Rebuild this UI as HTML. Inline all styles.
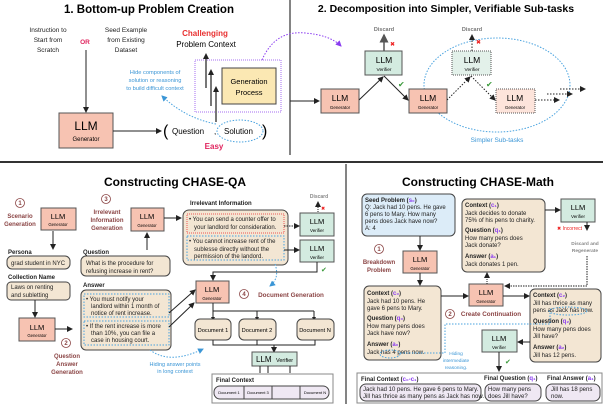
<!DOCTYPE html>
<html><head><meta charset="utf-8"><style>
html,body{margin:0;padding:0;background:#fff}
svg{display:block;font-family:"Liberation Sans",sans-serif}
.g{fill:#f7c3b2;stroke:#555;stroke-width:1}
.v{fill:#d3ebe0;stroke:#555;stroke-width:1}
.t{fill:#f3e6d3;stroke:#444;stroke-width:1}
.l{stroke:#222;stroke-width:1;fill:none}
.bd{stroke:#4aa3df;stroke-width:1;fill:none;stroke-dasharray:1.5 1.5}
.s{font-size:6px;fill:#222}
.b{font-weight:bold}
.m{fill:#8b4545;font-weight:bold}
.bl{fill:#3b96d6}
.p{fill:#8a3cf0;font-weight:bold}
</style></head><body>
<svg width="603" height="404" viewBox="0 0 603 404" xmlns="http://www.w3.org/2000/svg">
<defs><marker id="a" markerWidth="6" markerHeight="6" refX="5" refY="3" orient="auto"><path d="M0,0L6,3L0,6z" fill="#222"/></marker>
<marker id="ag" markerWidth="6" markerHeight="6" refX="5" refY="3" orient="auto"><path d="M0,0L6,3L0,6z" fill="#555"/></marker>
<marker id="ab" markerWidth="6" markerHeight="6" refX="5" refY="3" orient="auto"><path d="M0,0L6,3L0,6z" fill="#3b96d6"/></marker>
<marker id="ap" markerWidth="6" markerHeight="6" refX="5" refY="3" orient="auto"><path d="M0,0L6,3L0,6z" fill="#8a3cf0"/></marker></defs>

<line x1="290" y1="0" x2="290" y2="155" stroke="#333" stroke-width="1.2"/>
<line x1="0" y1="162" x2="603" y2="162" stroke="#333" stroke-width="2"/>
<line x1="346" y1="164" x2="346" y2="404" stroke="#333" stroke-width="1.2"/>

<text x="149" y="13" font-size="11.5" font-weight="bold" text-anchor="middle">1. Bottom-up Problem Creation</text>
<g font-size="6.5" text-anchor="middle" fill="#222"><text x="48" y="32">Instruction to</text><text x="48" y="42">Start from</text><text x="48" y="52">Scratch</text>
<text x="126" y="32">Seed Example</text><text x="126" y="42">from Existing</text><text x="126" y="52">Dataset</text></g>
<text x="85" y="44" font-size="6.5" font-weight="bold" fill="#e0245e" text-anchor="middle">OR</text>
<line x1="86" y1="50" x2="86" y2="112" class="l" marker-end="url(#a)"/>
<rect x="59" y="113" width="54" height="35" class="g"/>
<text x="86" y="130" font-size="12" text-anchor="middle">LLM</text><text x="86" y="141" font-size="6" text-anchor="middle">Generator</text>
<line x1="113" y1="131" x2="161" y2="131" class="l" marker-end="url(#a)"/>
<text x="163" y="136" font-size="16">(</text><text x="172" y="134" font-size="8">Question</text><text x="214" y="134" font-size="8">,</text>
<ellipse cx="240" cy="131" rx="23" ry="11" class="bd"/><text x="224" y="134" font-size="8">Solution</text><text x="262" y="136" font-size="16">)</text>
<text x="214" y="149" font-size="8" font-weight="bold" fill="#e0245e" text-anchor="middle">Easy</text>
<text x="205" y="36" font-size="8" font-weight="bold" fill="#e83030" text-anchor="middle">Challenging</text>
<text x="206" y="47" font-size="8" text-anchor="middle">Problem Context</text>
<rect x="195" y="60" width="86" height="52" fill="none" stroke="#a46cf0" stroke-dasharray="1 1"/>
<g stroke="#777" stroke-width="2"><line x1="206" y1="88" x2="206" y2="58"/><line x1="211" y1="106" x2="211" y2="74"/><line x1="216" y1="122" x2="216" y2="91"/></g>
<g fill="#222"><path d="M203,59L206,53L209,59z"/><path d="M208,75L211,69L214,75z"/><path d="M213,92L216,86L219,92z"/></g>
<rect x="222" y="68" width="54" height="36" fill="#fbe8b3" stroke="#444"/>
<text x="249" y="84" font-size="7.5" text-anchor="middle">Generation</text><text x="249" y="95" font-size="7.5" text-anchor="middle">Process</text>
<g font-size="5.7" class="bl" text-anchor="middle"><text x="155" y="74">Hide components of</text><text x="155" y="82">solution or reasoning</text><text x="155" y="90">to build difficult context</text></g>
<path d="M216,124Q185,118 162,96" class="bd" marker-end="url(#ab)"/>
<path d="M262,60Q275,30 305,33Q330,35 341,46" fill="none" stroke="#8a3cf0" stroke-dasharray="1.5 1.5" marker-end="url(#ap)"/>

<text x="446" y="12" font-size="10.5" font-weight="bold" text-anchor="middle">2. Decomposition into Simpler, Verifiable Sub-tasks</text>
<line x1="290" y1="101" x2="319" y2="101" class="l" marker-end="url(#a)"/>
<ellipse cx="497" cy="85" rx="73" ry="47" class="bd"/>
<rect x="321" y="89" width="38" height="24" class="g"/><text x="340" y="101" font-size="8.5" text-anchor="middle">LLM</text><text x="340" y="109" font-size="4.5" text-anchor="middle">Generator</text>
<rect x="365" y="51" width="37" height="24" class="v"/><text x="384" y="63" font-size="8.5" text-anchor="middle">LLM</text><text x="384" y="71" font-size="4.8" text-anchor="middle">Verifier</text>
<rect x="409" y="89" width="38" height="24" class="g"/><text x="428" y="101" font-size="8.5" text-anchor="middle">LLM</text><text x="428" y="109" font-size="4.5" text-anchor="middle">Generator</text>
<rect x="452" y="51" width="39" height="24" fill="#e3f1ea" stroke="#555" stroke-dasharray="1 1"/><text x="472" y="63" font-size="8.5" text-anchor="middle">LLM</text><text x="472" y="71" font-size="4.8" text-anchor="middle">Verifier</text>
<rect x="496" y="89" width="39" height="24" fill="#fde4db" stroke="#555" stroke-dasharray="1 1"/><text x="515" y="101" font-size="8.5" text-anchor="middle">LLM</text><text x="515" y="109" font-size="4.5" text-anchor="middle">Generator</text>
<line x1="359" y1="100" x2="383" y2="77" class="l" marker-end="url(#a)"/><line x1="384" y1="76" x2="408" y2="100" class="l" marker-end="url(#a)"/>
<line x1="384" y1="51" x2="384" y2="35" stroke="#555" stroke-width="1.5" marker-end="url(#ag)"/>
<g stroke-dasharray="1.5 1.5"><line x1="447" y1="100" x2="470" y2="77" class="l" marker-end="url(#a)"/><line x1="471" y1="76" x2="495" y2="100" class="l" marker-end="url(#a)"/>
<line x1="472" y1="51" x2="472" y2="35" class="l" marker-end="url(#a)"/><line x1="535" y1="100" x2="559" y2="100" class="l" marker-end="url(#a)"/>
<line x1="547" y1="94" x2="572" y2="94" class="l" marker-end="url(#a)"/><line x1="560" y1="89" x2="585" y2="89" class="l" marker-end="url(#a)"/></g>
<text x="384" y="31" font-size="5.5" fill="#777" font-weight="bold" text-anchor="middle">Discard</text><text x="472" y="31" font-size="5.5" fill="#777" font-weight="bold" text-anchor="middle">Discard</text>
<text x="390" y="46" font-size="6" fill="#e22">✖</text><text x="476" y="44" font-size="6" fill="#e22">✖</text>
<text x="398" y="87" font-size="8" fill="#3a9a3a">✔</text><text x="486" y="87" font-size="8" fill="#3a9a3a">✔</text>
<text x="497" y="142" font-size="6.5" class="bl" text-anchor="middle">Simpler Sub-tasks</text>

<text x="175" y="186" font-size="12" font-weight="bold" text-anchor="middle">Constructing CHASE-QA</text>
<g fill="none" stroke="#8b4545" stroke-width="0.8"><circle cx="20" cy="203" r="4.5"/><circle cx="66" cy="343" r="4.5"/><circle cx="106" cy="199" r="4.5"/><circle cx="244" cy="294" r="4.5"/><circle cx="379" cy="249" r="4.5"/><circle cx="450" cy="314" r="4.5"/></g>
<g font-size="6" class="m" text-anchor="middle"><text x="20" y="205">1</text><text x="66" y="345">2</text><text x="106" y="201">3</text><text x="244" y="296">4</text><text x="379" y="251">1</text><text x="450" y="316">2</text>
<text x="20" y="218">Scenario</text><text x="20" y="226">Generation</text>
<text x="67" y="358">Question</text><text x="67" y="366">Answer</text><text x="67" y="374">Generation</text>
<text x="107" y="214">Irrelevant</text><text x="107" y="222">Information</text><text x="107" y="230">Generation</text>
<text x="291" y="297" font-size="6.3">Document Generation</text>
<text x="379" y="264">Breakdown</text><text x="379" y="272">Problem</text><text x="491" y="316" font-size="6.3">Create Continuation</text></g>

<rect x="41" y="208" width="35" height="22" class="g"/><text x="58" y="219" font-size="7.5" text-anchor="middle">LLM</text><text x="58" y="226" font-size="4.3" text-anchor="middle">Generator</text>
<line x1="53" y1="231" x2="53" y2="249" class="l" marker-end="url(#a)"/>
<text x="8" y="254" class="s b">Persona</text><rect x="7" y="256" width="63" height="13" rx="5" class="t"/><text x="11" y="265" class="s">grad student in NYC</text>
<text x="8" y="279" class="s b">Collection Name</text><rect x="7" y="282" width="63" height="18" rx="4" class="t"/><text x="11" y="289" class="s">Laws   on   renting</text><text x="11" y="297" class="s">and subletting</text>
<line x1="35" y1="300" x2="35" y2="317" class="l" marker-end="url(#a)"/>
<rect x="19" y="318" width="36" height="23" class="g"/><text x="37" y="330" font-size="7.5" text-anchor="middle">LLM</text><text x="37" y="337" font-size="4.3" text-anchor="middle">Generator</text>
<line x1="55" y1="329" x2="72" y2="329" class="l" marker-end="url(#a)"/>
<rect x="131" y="208" width="33" height="23" class="g"/><text x="147" y="219" font-size="7.5" text-anchor="middle">LLM</text><text x="147" y="227" font-size="4.3" text-anchor="middle">Generator</text>
<line x1="164" y1="218" x2="181" y2="218" class="l" marker-end="url(#a)"/><line x1="147" y1="250" x2="147" y2="233" class="l" marker-end="url(#a)"/>
<text x="83" y="254" class="s b">Question</text><rect x="81" y="256" width="89" height="20" rx="5" class="t"/><text x="86" y="265" class="s">What is the procedure for</text><text x="86" y="273" class="s">refusing increase in rent?</text>
<text x="83" y="287" class="s b">Answer</text><rect x="81" y="290" width="90" height="60" rx="5" class="t"/>
<rect x="84" y="294" width="85" height="23" class="bd"/><rect x="84" y="321" width="85" height="24" class="bd"/>
<g class="s" font-size="5.7"><text x="86" y="301">•  You   must   notify   your</text><text x="91" y="308">landlord within 1 month of</text><text x="91" y="315">notice of rent increase.</text>
<text x="86" y="328">•  If the rent increase is more</text><text x="91" y="335">than 10%, you can file a</text><text x="91" y="342">case in housing court.</text></g>
<text x="190" y="205" class="s b">Irrelevant Information</text><rect x="183" y="210" width="105" height="55" rx="6" class="t"/>
<rect x="187" y="214" width="97" height="19" fill="none" stroke="#e55" stroke-dasharray="1 1"/><rect x="187" y="236" width="97" height="24" class="bd"/>
<g class="s" font-size="5.7"><text x="189" y="221">•  You can send a counter offer to</text><text x="194" y="229">your landlord for consideration.</text>
<text x="189" y="243">•  You cannot increase rent of the</text><text x="194" y="251">sublesse  directly  without  the</text><text x="194" y="258">permission of the landord.</text></g>
<rect x="300" y="213" width="34" height="23" class="v"/><text x="317" y="224" font-size="7.5" text-anchor="middle">LLM</text><text x="317" y="232" font-size="4.5" text-anchor="middle">Verifier</text>
<rect x="300" y="240" width="34" height="22" class="v"/><text x="317" y="251" font-size="7.5" text-anchor="middle">LLM</text><text x="317" y="259" font-size="4.5" text-anchor="middle">Verifier</text>
<line x1="284" y1="226" x2="299" y2="226" class="l" stroke-dasharray="1.5 1" marker-end="url(#a)"/><line x1="284" y1="250" x2="299" y2="250" class="l" marker-end="url(#a)"/>
<text x="319" y="198" font-size="5" fill="#888" font-weight="bold" text-anchor="middle">Discard</text><line x1="318" y1="212" x2="318" y2="202" class="l" stroke-dasharray="1 1" marker-end="url(#a)"/><text x="321" y="210" font-size="5" fill="#e22">✖</text>
<text x="321" y="272" font-size="7" fill="#3a9a3a">✔</text>
<path d="M317,262V272H213V280" class="l" marker-end="url(#a)"/>
<path d="M275,264Q280,278 270,286" class="bd" marker-end="url(#ab)"/>
<rect x="196" y="281" width="33" height="22" class="g"/><text x="212" y="292" font-size="7.5" text-anchor="middle">LLM</text><text x="212" y="300" font-size="4.3" text-anchor="middle">Generator</text>
<line x1="169" y1="313" x2="195" y2="290" class="l" marker-end="url(#a)"/><line x1="169" y1="327" x2="194" y2="303" class="l" marker-end="url(#a)"/>
<path d="M213,303V311M213,311H314M213,311V319M257,311V319M314,311V319" class="l"/>
<g fill="#222"><path d="M211,317L213,321L215,317z"/><path d="M255,317L257,321L259,317z"/><path d="M312,317L314,321L316,317z"/></g>
<rect x="195" y="319" width="36" height="21" rx="5" class="t"/><rect x="239" y="319" width="37" height="21" rx="5" class="t"/><rect x="297" y="319" width="37" height="21" rx="5" class="t"/>
<g font-size="5.7" text-anchor="middle"><text x="213" y="332">Document 1</text><text x="257" y="332">Document 2</text><text x="315" y="332">Document N</text></g>
<path d="M213,340V345H315V340M257,340V345M274,345V352" class="l" marker-end="url(#a)"/>
<rect x="252" y="352" width="45" height="14" class="v"/><text x="256" y="362" font-size="8">LLM</text><text x="276" y="362" font-size="5.5">Verifier</text>
<g class="l"><line x1="260" y1="366" x2="260" y2="373"/><line x1="268" y1="366" x2="268" y2="373"/><line x1="290" y1="366" x2="290" y2="373"/></g>
<rect x="212" y="374" width="121" height="29" fill="#fff" stroke="#888"/><text x="216" y="382" class="s b">Final Context</text>
<rect x="214" y="386" width="115" height="13" rx="6" fill="#efe8f3" stroke="#444"/>
<g stroke="#444"><line x1="244" y1="386" x2="244" y2="399"/><line x1="272" y1="386" x2="272" y2="399"/><line x1="300" y1="386" x2="300" y2="399"/></g>
<g font-size="4" text-anchor="middle"><text x="229" y="394">Document 1</text><text x="258" y="394">Document 3</text><text x="315" y="394">Document N</text></g>
<path d="M150,350Q170,365 203,349" class="bd" marker-end="url(#ab)"/>
<text x="175" y="366" font-size="5.5" class="bl" text-anchor="middle">Hiding answer points</text><text x="175" y="373" font-size="5.5" class="bl" text-anchor="middle">in long context</text>

<text x="478" y="186" font-size="12" font-weight="bold" text-anchor="middle">Constructing CHASE-Math</text>
<rect x="362" y="194" width="93" height="42" rx="5" fill="#dcecf8" stroke="#444"/>
<g class="s" font-size="5.7"><text x="365" y="202" class="b">Seed Problem (<tspan class="p">s₀</tspan>)</text><text x="365" y="209">Q: Jack had 10 pens. He gave</text><text x="365" y="216">6 pens to Mary. How many</text><text x="365" y="223">pens does Jack have now?</text><text x="365" y="230">A: 4</text></g>
<line x1="420" y1="236" x2="420" y2="250" class="l" marker-end="url(#a)"/>
<rect x="403" y="251" width="34" height="22" class="g"/><text x="420" y="262" font-size="7.5" text-anchor="middle">LLM</text><text x="420" y="270" font-size="4.3" text-anchor="middle">Generator</text>
<line x1="420" y1="273" x2="420" y2="285" class="l" marker-end="url(#a)"/>
<rect x="364" y="286" width="77" height="74" rx="5" class="t"/>
<g class="s" font-size="5.7"><text x="367" y="295" class="b">Context (<tspan class="p">c₀</tspan>)</text><text x="367" y="303">Jack had 10 pens. He</text><text x="367" y="310">gave 6 pens to Mary.</text>
<text x="367" y="320" class="b">Question (<tspan class="p">q₀</tspan>)</text><text x="367" y="328">How many pens does</text><text x="367" y="335">Jack have now?</text>
<text x="367" y="346" class="b">Answer (<tspan class="p">a₀</tspan>)</text><text x="367" y="354">Jack has 4 pens now.</text></g>
<line x1="441" y1="296" x2="468" y2="296" class="l" marker-end="url(#a)"/>
<rect x="469" y="284" width="34" height="22" class="g"/><text x="486" y="295" font-size="7.5" text-anchor="middle">LLM</text><text x="486" y="303" font-size="4.3" text-anchor="middle">Generator</text>
<line x1="487" y1="284" x2="487" y2="273" class="l" stroke-dasharray="1 1" marker-end="url(#a)"/>
<rect x="462" y="199" width="83" height="73" rx="5" class="t"/>
<g class="s" font-size="5.7"><text x="465" y="207" class="b">Context (<tspan class="p">c₁</tspan>)</text><text x="465" y="215">Jack  decides  to  donate</text><text x="465" y="222">75% of his pens to charity.</text>
<text x="465" y="232" class="b">Question (<tspan class="p">q₁</tspan>)</text><text x="465" y="240">How  many  pens  does</text><text x="465" y="247">Jack donate?</text>
<text x="465" y="258" class="b">Answer (<tspan class="p">a₁</tspan>)</text><text x="465" y="266">Jack donates 1 pen.</text></g>
<line x1="545" y1="210" x2="560" y2="210" class="l" marker-end="url(#a)"/>
<rect x="561" y="199" width="34" height="23" class="v"/><text x="578" y="210" font-size="7.5" text-anchor="middle">LLM</text><text x="578" y="218" font-size="4.5" text-anchor="middle">Verifier</text>
<text x="557" y="230" font-size="5" fill="#e22">✖ Incorrect</text>
<line x1="587" y1="222" x2="587" y2="230" class="l" marker-end="url(#a)"/>
<text x="585" y="245" font-size="4.8" fill="#888" text-anchor="middle" font-weight="bold">Discard and</text><text x="585" y="252" font-size="4.8" fill="#888" text-anchor="middle" font-weight="bold">Regenerate</text>
<path d="M587,256V286H505" class="l" stroke-dasharray="1.5 1" marker-end="url(#a)"/>
<line x1="503" y1="296" x2="529" y2="296" class="l" marker-end="url(#a)"/>
<rect x="530" y="289" width="71" height="73" rx="5" class="t"/>
<g class="s" font-size="5.7"><text x="533" y="297" class="b">Context (<tspan class="p">c₂</tspan>)</text><text x="533" y="305">Jill has thrice as many</text><text x="533" y="312">pens as Jack has now.</text>
<text x="533" y="323" class="b">Question (<tspan class="p">q₂</tspan>)</text><text x="533" y="331">How many pens does</text><text x="533" y="338">Jill have?</text>
<text x="533" y="349" class="b">Answer (<tspan class="p">a₂</tspan>)</text><text x="533" y="357">Jill has 12 pens.</text></g>
<ellipse cx="390" cy="354" rx="10" ry="4" class="bd"/><ellipse cx="568" cy="311" rx="19" ry="4" class="bd"/>
<path d="M400,353H445V324H550V313" class="bd"/>
<g font-size="4.8" class="bl" text-anchor="middle"><text x="456" y="355">Hiding</text><text x="456" y="362">intermediate</text><text x="456" y="369">reasoning.</text></g>
<rect x="482" y="330" width="35" height="22" class="v"/><text x="499" y="341" font-size="7.5" text-anchor="middle">LLM</text><text x="499" y="349" font-size="4.5" text-anchor="middle">Verifier</text>
<line x1="530" y1="342" x2="518" y2="342" class="l" marker-end="url(#a)"/>
<line x1="499" y1="352" x2="499" y2="371" class="l" marker-end="url(#a)"/><text x="505" y="364" font-size="7" fill="#3a9a3a">✔</text>
<rect x="357" y="373" width="245" height="30" fill="#fff" stroke="#888"/>
<g class="s" font-size="5.5"><text x="361" y="381" class="b">Final Context (<tspan class="p">c₀-c₁</tspan>)</text><text x="484" y="380" class="b">Final Question (<tspan class="p">q₁</tspan>)</text><text x="547" y="380" class="b">Final Answer (<tspan class="p">a₁</tspan>)</text></g>
<rect x="360" y="384" width="121" height="17" rx="6" fill="#efe8f3" stroke="#444"/><rect x="485" y="384" width="56" height="17" rx="6" fill="#efe8f3" stroke="#444"/><rect x="546" y="384" width="54" height="17" rx="6" fill="#efe8f3" stroke="#444"/>
<g class="s" font-size="4.9"><text x="363" y="391">Jack had 10 pens. He gave 6 pens to Mary.</text><text x="363" y="398">Jill has thrice as many pens as Jack has now.</text>
<text x="488" y="391">How    many    pens</text><text x="488" y="398">does Jill have?</text><text x="551" y="391">Jill has 18 pens</text><text x="551" y="398">now.</text></g>
</svg>
</body></html>
